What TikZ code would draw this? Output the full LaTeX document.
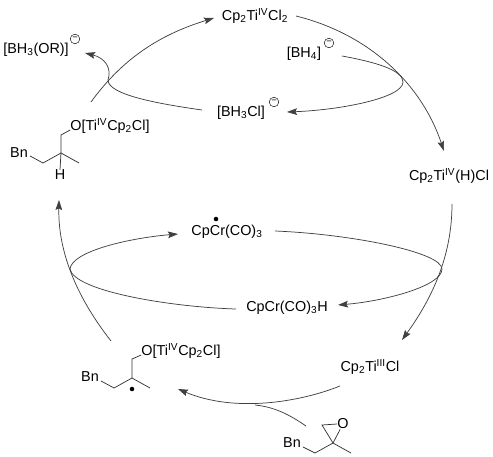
\documentclass[tikz,border=0pt]{standalone}
\usepackage{fontspec}
\usetikzlibrary{arrows.meta}
\setmainfont{Liberation Sans}
\tikzset{
	label/.style={inner sep=0pt, font=\fontsize{10.8}{12}\selectfont},
	charge/.style={draw, circle, minimum size=7.2pt, inner sep=0pt, line width=0.35pt, font=\fontsize{7}{7}\selectfont},
	rxn/.style={line width=0.55pt, black!75},
	tip/.style={-{Stealth[length=7.5pt, width=5pt, inset=1.2pt]}},
	bond/.style={line width=0.55pt, black!80},
}
\begin{document}
\begin{tikzpicture}[x=0.75pt, y=-0.75pt]
	\useasboundingbox (0,0) rectangle (493,457);
	% species round the cycle
	\node [label] (ticl) at (255,16) {Cp\textsubscript{2}Ti\textsuperscript{IV}Cl\textsubscript{2}};
	\node [label] (bhf) at (304,54) {[BH\textsubscript{4}]};
	\node [charge] (bhfc) at (329,43) {−};
	\node [label] (bhcl) at (241,113) {[BH\textsubscript{3}Cl]};
	\node [charge] (bhclc) at (274,102) {−};
	\node [label] (bhor) at (36,50) {[BH\textsubscript{3}(OR)]};
	\node [charge] (bhorc) at (75,39) {−};
	\node [label] (tih) at (449,176) {Cp\textsubscript{2}Ti\textsuperscript{IV}(H)Cl};
	\node [label] (crr) at (227,232) {CpCr(CO)\textsubscript{3}};
	\node [circle, fill, inner sep=0pt, minimum size=3.4pt] (crdot) at (216,219) {};
	\node [label] (crh) at (287,308) {CpCr(CO)\textsubscript{3}H};
	\node [label] (tiiii) at (370,367) {Cp\textsubscript{2}Ti\textsuperscript{III}Cl};
	% upper alkoxide
	\node [label] (oup) at (110,126) {O[Ti\textsuperscript{IV}Cp\textsubscript{2}Cl]};
	\node [label] (bnup) at (19,153) {Bn};
	\node [label] (hup) at (60,175) {H};
	\coordinate (upa) at (43,163);
	\coordinate (upb) at (61,153);
	\coordinate (upc) at (79,163);
	\coordinate (upd) at (61,135);
	\draw [bond] (bnup.east) ++(2,3) -- (upa) -- (upb) -- (upc);
	\draw [bond] (upb) -- (upd) -- (oup.west |- 0,130);
	\draw [bond] (upb) -- (hup.north);
	% lower radical
	\node [label] (olo) at (181,351) {O[Ti\textsuperscript{IV}Cp\textsubscript{2}Cl]};
	\node [label] (bnlo) at (90,377) {Bn};
	\node [circle, fill, inner sep=0pt, minimum size=3.4pt] (lodot) at (132,389) {};
	\coordinate (loa) at (114,388);
	\coordinate (lob) at (132,378);
	\coordinate (loc) at (150,388);
	\coordinate (lod) at (132,359);
	\draw [bond] (bnlo.east) ++(2,4) -- (loa) -- (lob) -- (loc);
	\draw [bond] (lob) -- (lod) -- (olo.west |- 0,355);
	% epoxide
	\node [label] (oep) at (343,424) {O};
	\node [label] (bnep) at (292,443) {Bn};
	\coordinate (epa) at (315,453);
	\coordinate (epb) at (333,443);
	\coordinate (epc) at (351,453);
	\coordinate (epd) at (322,425);
	\draw [bond] (bnep.east) ++(2,4) -- (epa) -- (epb) -- (epc);
	\draw [bond] (epb) -- (epd) -- (oep.west);
	\draw [bond] (epb) -- (oep);
	% free ends of the arcs
	\coordinate (leftend) at (111,341);
	\coordinate (topend) at (91,102);
	\coordinate (tipa) at (214,18);
	\coordinate (tipb) at (444,151);
	\coordinate (tipc) at (402,340);
	\coordinate (tipd) at (178,389);
	\coordinate (tipe) at (59,200);
	\coordinate (tiph) at (452,204);
	\coordinate (tistart) at (296,16);
	\coordinate (tiend) at (340,386);
	\coordinate (epstart) at (306,426);
	\coordinate (crstart) at (275,231);
	\coordinate (crtip) at (338,305);
	\coordinate (hstart) at (236,309);
	\coordinate (crrtip) at (178,234);
	\coordinate (bhfstart) at (342,56);
	\coordinate (bhcltip) at (287,112);
	\coordinate (bhclstart) at (202,110);
	\coordinate (bhortip) at (85,53);
	% big cycle
	\draw [rxn, tip] (topend) .. controls (125,55) and (165,33) .. (tipa);
	\draw [rxn, tip] (tistart) .. controls (365,33) and (420,80) .. (tipb);
	\draw [rxn, tip] (tiph) .. controls (452,255) and (433,297) .. (tipc);
	\draw [rxn, tip] (tiend) .. controls (300,402) and (235,413) .. (tipd);
	\draw [rxn] (epstart) .. controls (290,415) and (275,407) .. (255,405);
	\draw [rxn, tip] (leftend) .. controls (75,295) and (58,250) .. (tipe);
	% borohydride steps
	\draw [rxn, tip] (bhfstart) .. controls (375,62) and (403,70) .. (403,82) .. controls (403,98) and (340,110) .. (bhcltip);
	\draw [rxn, tip] (bhclstart) .. controls (160,104) and (108,95) .. (108,80) .. controls (112,68) and (105,58) .. (bhortip);
	% chromium ellipse
	\draw [rxn, tip] (crstart) .. controls (350,234) and (442,252) .. (442,269) .. controls (442,286) and (385,301) .. (crtip);
	\draw [rxn, tip] (hstart) .. controls (170,307) and (74,291) .. (70,269) .. controls (72,251) and (130,238) .. (crrtip);
\end{tikzpicture}
\end{document}
